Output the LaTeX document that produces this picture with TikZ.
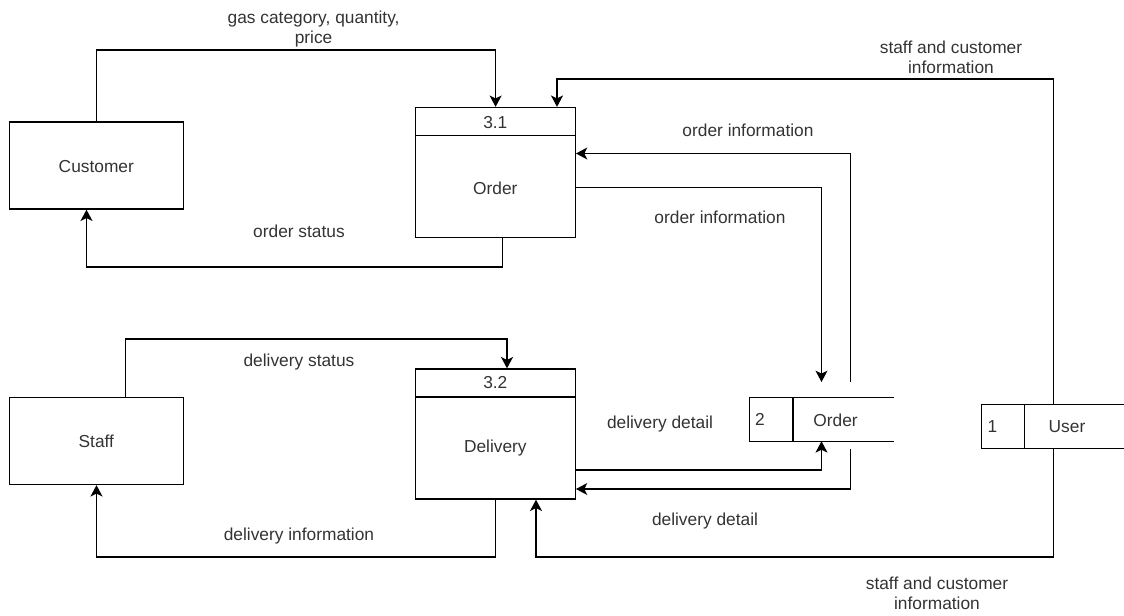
\documentclass[tikz,border=0pt]{standalone}
\usepackage{fontspec}
\setmainfont{Liberation Sans}
\usetikzlibrary{arrows.meta}
\tikzset{
  lbl/.style={font=\fontsize{13}{15}\selectfont, text=black!80, align=center, inner sep=0pt},
  entity/.style={draw, line width=1pt, minimum width=130.5pt, minimum height=65.25pt, inner sep=0pt},
  procbox/.style={draw, line width=1pt, minimum width=120pt, minimum height=97.5pt, inner sep=0pt},
  storebox/.style={minimum height=32.5pt, inner sep=0pt},
  flow/.style={line width=1pt, -{Stealth[length=8.5pt,width=9pt,inset=2.2pt]}},
  plain/.style={line width=1pt}
}
\begin{document}
\begin{tikzpicture}[x=0.75pt,y=-0.75pt]
\useasboundingbox (0,0) rectangle (1124,615);

% external entities
\node[entity] (cust) at (96.3,165.5) {};
\node[lbl] (custtxt) at (96.3,167) {Customer};
\node[entity] (staff) at (96.3,441) {};
\node[lbl] (stafftxt) at (96.3,441) {Staff};

% process 3.1
\node[procbox] (order) at (495.3,172.5) {};
\draw[plain] ([yshift=-21.5pt]order.north west) -- ([yshift=-21.5pt]order.north east);
\node[lbl] (ordnum) at (495.3,122.5) {3.1};
\node[lbl] (ordtxt) at (495.3,188) {Order};

% process 3.2
\node[procbox] (deliv) at (495.3,434) {};
\draw[plain] ([yshift=-21.5pt]deliv.north west) -- ([yshift=-21.5pt]deliv.north east);
\node[lbl] (delnum) at (495.3,383) {3.2};
\node[lbl] (deltxt) at (495.3,448) {Delivery};

% data store 2 (open on the right)
\node[storebox, minimum width=108pt] (st2) at (822,419.3) {};
\draw[plain] (st2.north east) -- (st2.north west) -- (st2.south west) -- (st2.south east);
\draw[plain] (793,0 |- st2.north) -- (793,0 |- st2.south);
\node[lbl] (st2num) at (760,419) {2};
\node[lbl] (st2txt) at (835.5,420) {Order};

% data store 1
\node[storebox, minimum width=107.25pt] (user) at (1053.5,426.5) {};
\draw[plain] (user.north east) -- (user.north west) -- (user.south west) -- (user.south east);
\draw[plain] (1024.7,0 |- user.north) -- (1024.7,0 |- user.south);
\node[lbl] (usernum) at (992.5,427) {1};
\node[lbl] (usertxt) at (1067,427) {User};

% free ends near the order store
\coordinate (oiout) at (850.6,382);
\coordinate (oiin) at (821.5,382);
\coordinate (ddout) at (850.6,449);

% flows
\draw[flow] (cust.north) |- (495.6,50) -- (495.6,0 |- order.north);
\draw[flow] (502.7,0 |- order.south) |- (86.5,267) -- (86.5,0 |- cust.south);
\draw[flow] (125.5,0 |- staff.north) |- (507,339) -- (507,0 |- deliv.north);
\draw[flow] (deliv.south) |- (96.5,557) -- (96.5,0 |- staff.south);
\draw[flow] (user.north) |- (557,79) -- (557,0 |- order.north);
\draw[flow] (user.south) |- (536,557) -- (536,0 |- deliv.south);
\draw[flow] (oiout) |- (order.east |- 0,153.5);
\draw[flow] (order.east |- 0,187.3) -| (oiin);
\draw[flow] (deliv.east |- 0,470) -| (821.5,0 |- st2.south);
\draw[flow] (ddout) |- (deliv.east |- 0,489);

% flow labels
\node[lbl] (l1) at (313.6,29) {gas category, quantity,\\price};
\node[lbl] (l2) at (299,231) {order status};
\node[lbl] (l3) at (299,362) {delivery status};
\node[lbl] (l4) at (299,536) {delivery information};
\node[lbl] (l5) at (951,57) {staff and customer\\information};
\node[lbl] (l6) at (937,593.5) {staff and customer\\information};
\node[lbl] (l7) at (748,130) {order information};
\node[lbl] (l8) at (720,217) {order information};
\node[lbl] (l9) at (660,424) {delivery detail};
\node[lbl] (l10) at (705,521) {delivery detail};
\end{tikzpicture}
\end{document}
